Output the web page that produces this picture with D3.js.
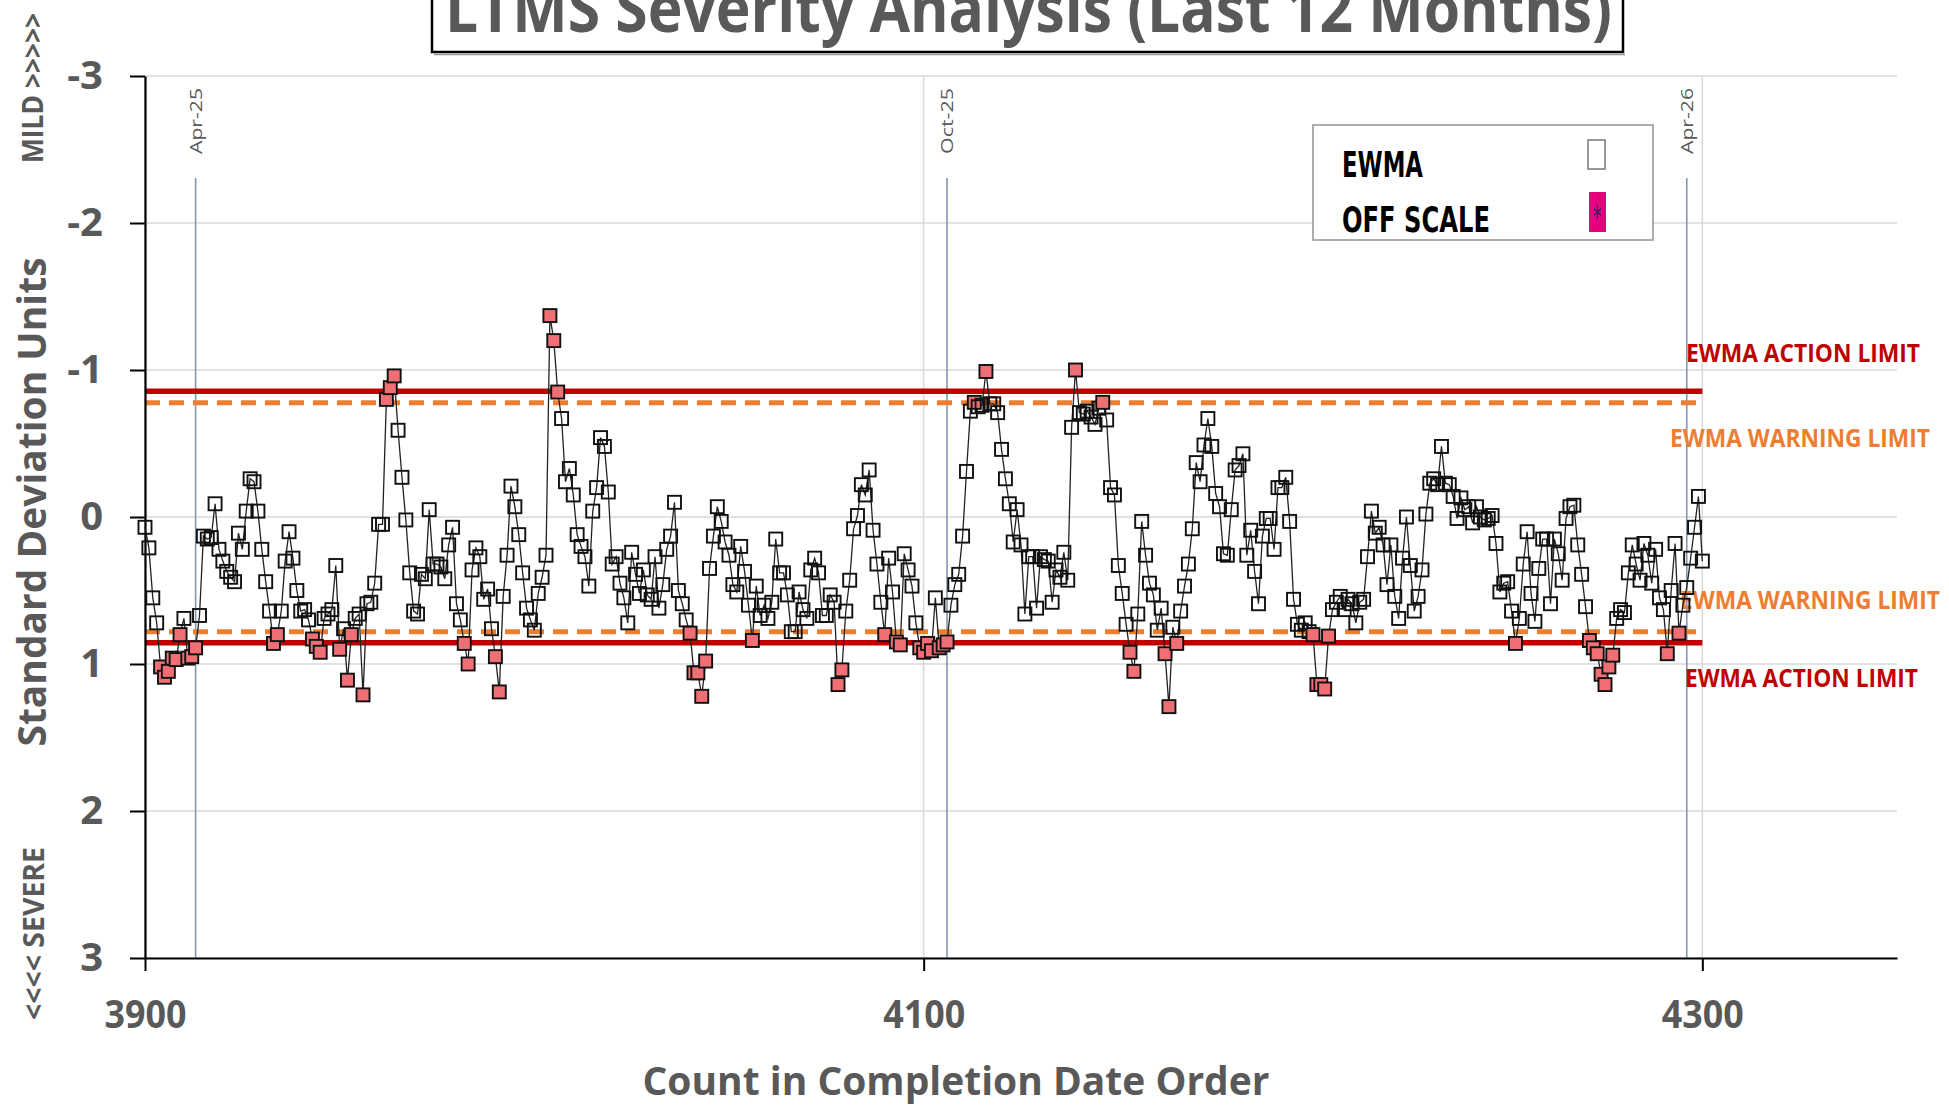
<!DOCTYPE html>
<html>
<head>
<meta charset="utf-8">
<script src="https://cdn.jsdelivr.net/npm/d3@7"></script>
<style>
  html, body { margin: 0; padding: 0; background: #ffffff; }
  svg { display: block; }
</style>
</head>
<body>
<svg id="chart" width="1949" height="1106"></svg>
<script>
// ---------------- DATA ----------------
const titleText = "LTMS Severity Analysis (Last 12 Months)";
const xAxisTitle = "Count in Completion Date Order";
const yAxisTitle = "Standard Deviation Units";
const mildLabel = "MILD >>>>>";
const severeLabel = "<<<< SEVERE";

const firstCount = 3900;
// EWMA values (standard deviation units), one per test count starting at 3900
const ewmaValues = [
  0.07, 0.21, 0.55, 0.72, 1.02, 1.09, 1.05, 0.96, 0.97, 0.80,
  0.69, 0.96, 0.95, 0.89, 0.67, 0.13, 0.15, 0.14, -0.09, 0.22,
  0.30, 0.37, 0.41, 0.44, 0.11, 0.22, -0.04, -0.26, -0.24, -0.04,
  0.22, 0.44, 0.64, 0.86, 0.80, 0.64, 0.30, 0.10, 0.28, 0.50,
  0.64, 0.63, 0.70, 0.83, 0.88, 0.92, 0.69, 0.66, 0.63, 0.33,
  0.90, 0.76, 1.11, 0.80, 0.69, 0.66, 1.21, 0.59, 0.58, 0.45,
  0.05, 0.05, -0.80, -0.88, -0.96, -0.59, -0.27, 0.02, 0.38, 0.64,
  0.66, 0.39, 0.42, -0.05, 0.32, 0.32, 0.34, 0.42, 0.19, 0.07,
  0.59, 0.70, 0.86, 1.00, 0.36, 0.21, 0.27, 0.56, 0.49, 0.76,
  0.95, 1.19, 0.54, 0.26, -0.21, -0.07, 0.12, 0.38, 0.62, 0.70,
  0.77, 0.52, 0.41, 0.26, -1.37, -1.20, -0.85, -0.67, -0.24, -0.33,
  -0.15, 0.12, 0.20, 0.27, 0.47, -0.04, -0.20, -0.54, -0.48, -0.17,
  0.32, 0.27, 0.45, 0.55, 0.72, 0.24, 0.39, 0.52, 0.36, 0.53,
  0.56, 0.27, 0.62, 0.46, 0.22, 0.13, -0.10, 0.50, 0.59, 0.70,
  0.79, 1.06, 1.06, 1.22, 0.98, 0.35, 0.13, -0.07, 0.03, 0.17,
  0.26, 0.46, 0.51, 0.20, 0.37, 0.60, 0.84, 0.47, 0.67, 0.60,
  0.69, 0.58, 0.15, 0.38, 0.38, 0.53, 0.78, 0.78, 0.51, 0.63,
  0.69, 0.36, 0.28, 0.38, 0.67, 0.67, 0.53, 0.58, 1.14, 1.04,
  0.64, 0.43, 0.08, -0.01, -0.22, -0.15, -0.32, 0.09, 0.32, 0.58,
  0.80, 0.28, 0.51, 0.85, 0.87, 0.25, 0.36, 0.47, 0.72, 0.89,
  0.92, 0.86, 0.91, 0.55, 0.89, 0.87, 0.85, 0.60, 0.46, 0.39,
  0.13, -0.31, -0.72, -0.78, -0.75, -0.76, -0.99, -0.77, -0.77, -0.71,
  -0.46, -0.26, -0.09, 0.17, -0.05, 0.19, 0.66, 0.27, 0.27, 0.62,
  0.27, 0.29, 0.30, 0.58, 0.36, 0.41, 0.24, 0.43, -0.61, -1.00,
  -0.71, -0.70, -0.72, -0.68, -0.63, -0.74, -0.78, -0.66, -0.20, -0.15,
  0.33, 0.52, 0.73, 0.92, 1.05, 0.66, 0.03, 0.26, 0.45, 0.53,
  0.77, 0.62, 0.93, 1.29, 0.75, 0.86, 0.64, 0.47, 0.32, 0.08,
  -0.37, -0.24, -0.49, -0.67, -0.48, -0.16, -0.07, 0.25, 0.26, -0.05,
  -0.32, -0.35, -0.43, 0.26, 0.09, 0.37, 0.59, 0.13, 0.01, 0.01,
  0.22, -0.20, -0.20, -0.27, 0.03, 0.56, 0.73, 0.77, 0.72, 0.78,
  0.80, 1.14, 1.14, 1.17, 0.81, 0.63, 0.58, 0.54, 0.63, 0.56,
  0.59, 0.72, 0.58, 0.56, 0.27, -0.04, 0.11, 0.07, 0.19, 0.46,
  0.19, 0.54, 0.69, 0.28, 0.00, 0.33, 0.64, 0.54, 0.36, -0.02,
  -0.23, -0.26, -0.22, -0.48, -0.23, -0.22, -0.14, 0.01, -0.13, -0.05,
  -0.07, 0.04, -0.07, 0.00, 0.02, 0.01, -0.01, 0.18, 0.51, 0.45,
  0.44, 0.64, 0.86, 0.69, 0.32, 0.10, 0.52, 0.71, 0.35, 0.15,
  0.15, 0.59, 0.15, 0.25, 0.43, 0.01, -0.07, -0.08, 0.19, 0.39,
  0.61, 0.84, 0.89, 0.93, 1.07, 1.14, 1.02, 0.94, 0.69, 0.63,
  0.65, 0.38, 0.19, 0.32, 0.43, 0.18, 0.26, 0.45, 0.22, 0.55,
  0.63, 0.93, 0.50, 0.18, 0.79, 0.60, 0.48, 0.28, 0.07, -0.14,
  0.30
];

const actionLimits = [-0.855, 0.855];
const warningLimits = [-0.778, 0.78];
const limitEndCount = 4300;

const monthCounts = [3913, 4106, 4296];
const monthLabels = ["Apr-25", "Oct-25", "Apr-26"];

const xTicks = [3900, 4100, 4300];
const yTicks = [-3, -2, -1, 0, 1, 2, 3];
const xDomain = [3900, 4350];
const yDomain = [-3, 3];

const limitLabelTexts = ["EWMA ACTION LIMIT", "EWMA WARNING LIMIT", "EWMA WARNING LIMIT", "EWMA ACTION LIMIT"];
const legendLabels = ["EWMA", "OFF SCALE"];

// ---------------- LAYOUT ----------------
const svg = d3.select("#chart");
const plot = { left: 145, right: 1897, top: 76, bottom: 958 };
const gray = "#595959";
const redC = "#c00000";
const orangeC = "#ed7d31";
const font = "'Open Sans', 'Liberation Sans', sans-serif";

const x = d3.scaleLinear().domain(xDomain).range([plot.left, plot.right]);
const y = d3.scaleLinear().domain(yDomain).range([plot.top, plot.bottom]);

svg.append("rect").attr("width", 1949).attr("height", 1106).attr("fill", "#fff");

// gridlines
svg.append("g").selectAll("line").data(yTicks).join("line")
  .attr("x1", plot.left).attr("x2", plot.right)
  .attr("y1", d => y(d)).attr("y2", d => y(d))
  .attr("stroke", "#d9d9d9").attr("stroke-width", 1.5);
svg.append("g").selectAll("line").data(xTicks).join("line")
  .attr("x1", d => x(d)).attr("x2", d => x(d))
  .attr("y1", plot.top).attr("y2", plot.bottom)
  .attr("stroke", "#d9d9d9").attr("stroke-width", 1.5);

// month marker lines
svg.append("g").selectAll("line").data(monthCounts).join("line")
  .attr("x1", d => x(d)).attr("x2", d => x(d))
  .attr("y1", 178).attr("y2", plot.bottom)
  .attr("stroke", "#8497b0").attr("stroke-width", 1.6);
svg.append("g").selectAll("text").data(monthCounts).join("text")
  .attr("transform", d => `translate(${x(d) + 6},121) rotate(-90)`)
  .attr("text-anchor", "middle")
  .attr("font-family", font)
  .attr("font-size", 16)
  .attr("fill", gray)
  .attr("textLength", 66).attr("lengthAdjust", "spacingAndGlyphs")
  .text((d, i) => monthLabels[i]);

// limit lines
const limitG = svg.append("g");
limitG.selectAll("line.action").data(actionLimits).join("line")
  .attr("class", "action")
  .attr("x1", x(firstCount)).attr("x2", x(limitEndCount))
  .attr("y1", d => y(d)).attr("y2", d => y(d))
  .attr("stroke", redC).attr("stroke-width", 5.5);
limitG.selectAll("line.warn").data(warningLimits).join("line")
  .attr("class", "warn")
  .attr("x1", x(firstCount)).attr("x2", x(limitEndCount))
  .attr("y1", d => y(d)).attr("y2", d => y(d))
  .attr("stroke", orangeC).attr("stroke-width", 5)
  .attr("stroke-dasharray", "15,9");

// limit labels
const limitLabelPos = [
  { x: 1686, y: 362, len: 234, c: redC },
  { x: 1670, y: 447, len: 260, c: orangeC },
  { x: 1680, y: 609, len: 260, c: orangeC },
  { x: 1685, y: 687, len: 233, c: redC }
];
svg.append("g").selectAll("text").data(limitLabelTexts).join("text")
  .attr("transform", (d, i) => `translate(${limitLabelPos[i].x},${limitLabelPos[i].y}) scale(1,1.2)`)
  .attr("fill", (d, i) => limitLabelPos[i].c)
  .attr("font-family", font)
  .attr("font-weight", 700)
  .attr("font-size", 20.5)
  .attr("textLength", (d, i) => limitLabelPos[i].len)
  .attr("lengthAdjust", "spacingAndGlyphs")
  .text(d => d);

// axes
const yAxis = d3.axisLeft(y).tickValues(yTicks).tickSize(15).tickSizeOuter(0).tickPadding(27)
  .tickFormat(d => String(d));
const gy = svg.append("g").attr("transform", `translate(${plot.left},0)`).call(yAxis);
gy.select(".domain").attr("stroke", "#000").attr("stroke-width", 2.2);
gy.selectAll(".tick line").attr("stroke", "#000").attr("stroke-width", 2);
gy.selectAll(".tick text")
  .attr("font-family", font)
  .attr("font-weight", 700).attr("font-size", 40).attr("fill", gray);

const xAxis = d3.axisBottom(x).tickValues(xTicks).tickSize(13).tickSizeOuter(0).tickPadding(29)
  .tickFormat(d => String(d));
const gx = svg.append("g").attr("transform", `translate(0,${plot.bottom})`).call(xAxis);
gx.select(".domain").attr("stroke", "#000").attr("stroke-width", 2.2);
gx.selectAll(".tick line").attr("stroke", "#000").attr("stroke-width", 2);
gx.selectAll(".tick text")
  .attr("font-family", font)
  .attr("font-weight", 700).attr("font-size", 40).attr("fill", gray)
  .attr("textLength", 82).attr("lengthAdjust", "spacingAndGlyphs");

// series
const pts = ewmaValues.map((v, i) => ({ c: firstCount + i, v }));
const line = d3.line().x(d => x(d.c)).y(d => y(d.v));
svg.append("path").datum(pts)
  .attr("d", line).attr("fill", "none")
  .attr("stroke", "#222").attr("stroke-width", 1.3);
const warnHi = d3.max(warningLimits), warnLo = d3.min(warningLimits);
svg.append("g").selectAll("rect").data(pts).join("rect")
  .attr("x", d => x(d.c) - 6.5).attr("y", d => y(d.v) - 6.5)
  .attr("width", 13).attr("height", 13)
  .attr("fill", d => (d.v > warnHi || d.v < warnLo) ? "#ef6f74" : "none")
  .attr("stroke", "#111").attr("stroke-width", 1.9);

// title (box and text run off the top edge as in the reference)
svg.append("rect").attr("x", 432).attr("y", -20).attr("width", 1191).attr("height", 72)
  .attr("fill", "#fff").attr("stroke", "#000").attr("stroke-width", 2.5);
svg.append("line").attr("x1", 434).attr("x2", 1625).attr("y1", 54.5).attr("y2", 54.5)
  .attr("stroke", "#999").attr("stroke-width", 1.5);
svg.append("text")
  .attr("transform", "translate(445,32) scale(1,1.2)")
  .attr("font-family", font)
  .attr("font-weight", 700).attr("font-size", 55).attr("fill", gray)
  .attr("textLength", 1167).attr("lengthAdjust", "spacingAndGlyphs")
  .text(titleText);

// axis titles
svg.append("text")
  .attr("transform", `translate(46,${502}) rotate(-90)`)
  .attr("text-anchor", "middle")
  .attr("font-family", font)
  .attr("font-weight", 700).attr("font-size", 40).attr("fill", gray)
  .attr("textLength", 489).attr("lengthAdjust", "spacingAndGlyphs")
  .text(yAxisTitle);
svg.append("text")
  .attr("transform", `translate(43,163) rotate(-90) scale(1,1.1)`)
  .attr("font-family", font)
  .attr("font-weight", 700).attr("font-size", 26).attr("fill", gray)
  .attr("textLength", 150).attr("lengthAdjust", "spacingAndGlyphs")
  .text(mildLabel);
svg.append("text")
  .attr("transform", `translate(44,1020) rotate(-90) scale(1,1.1)`)
  .attr("font-family", font)
  .attr("font-weight", 700).attr("font-size", 26).attr("fill", gray)
  .attr("textLength", 173).attr("lengthAdjust", "spacingAndGlyphs")
  .text(severeLabel);
svg.append("text")
  .attr("x", 956).attr("y", 1095)
  .attr("text-anchor", "middle")
  .attr("font-family", font)
  .attr("font-weight", 700).attr("font-size", 39).attr("fill", gray)
  .attr("textLength", 627).attr("lengthAdjust", "spacingAndGlyphs")
  .text(xAxisTitle);

// legend
const lg = svg.append("g");
lg.append("rect").attr("x", 1313).attr("y", 125).attr("width", 340).attr("height", 115)
  .attr("fill", "#fff").attr("stroke", "#a6a6a6").attr("stroke-width", 1.8);
const legendPos = [{ y: 177, len: 81 }, { y: 232, len: 148 }];
lg.selectAll("text").data(legendLabels).join("text")
  .attr("x", 1342).attr("y", (d, i) => legendPos[i].y)
  .attr("font-family", "'Liberation Sans Narrow', 'DejaVu Sans Condensed', 'Liberation Sans', sans-serif")
  .attr("font-weight", 700).attr("font-size", 35).attr("fill", "#000")
  .attr("textLength", (d, i) => legendPos[i].len).attr("lengthAdjust", "spacingAndGlyphs")
  .text(d => d);
lg.append("rect").attr("x", 1588).attr("y", 140).attr("width", 17).attr("height", 29)
  .attr("fill", "#fff").attr("stroke", "#7f7f7f").attr("stroke-width", 1.6);
lg.append("rect").attr("x", 1589).attr("y", 192).attr("width", 17).attr("height", 40)
  .attr("fill", "#e6007e");
lg.append("path")
  .attr("d", d3.symbol().type(d3.symbolAsterisk).size(70)())
  .attr("transform", "translate(1597.5,212) scale(0.8,1.3)")
  .attr("stroke", "#1f2a6b").attr("stroke-width", 1.3).attr("fill", "none");
</script>
</body>
</html>
